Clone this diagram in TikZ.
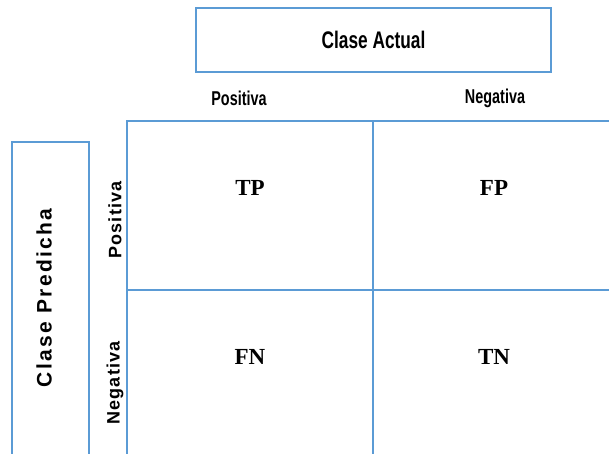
\documentclass[tikz,border=0pt]{standalone}
\usepackage{fontspec}
\setmainfont{Liberation Serif}
\newfontfamily\narrowsans[FakeStretch=0.72]{Liberation Sans}
\newfontfamily\spacedsans[LetterSpace=11]{Liberation Sans}
\newfontfamily\spacedsansb[LetterSpace=6]{Liberation Sans}
\definecolor{gridblue}{HTML}{5B9BD5}
\tikzset{
  frame/.style={draw=gridblue, line width=2pt},
  toplabel/.style={font=\narrowsans\bfseries\fontsize{20}{23}\selectfont, inner sep=0pt},
  sidelabel/.style={font=\spacedsansb\bfseries\fontsize{18}{21}\selectfont, inner sep=0pt, rotate=90},
  cell/.style={font=\bfseries\fontsize{23}{27}\selectfont, inner sep=0pt}
}
\begin{document}
\begin{tikzpicture}[x=1pt,y=-1pt]
\useasboundingbox (0,0) rectangle (609,454);
\clip (0,0) rectangle (609,454);
\fill[white] (0,0) rectangle (609,454);
% top header box
\node[frame, minimum width=355pt, minimum height=64pt, inner sep=0pt,
      font=\narrowsans\bfseries\fontsize{24}{27}\selectfont] (actual) at (373.5,40) {Clase Actual};
% left header box
\coordinate (lbA) at (12,142);
\coordinate (lbB) at (89,470);
\draw[frame] (lbA) rectangle (lbB);
\node[font=\spacedsans\bfseries\fontsize{21}{24}\selectfont, inner sep=0pt, rotate=90] (predicha) at (44,298) {Clase Predicha};
% column / row labels
\node[toplabel] (colpos) at (239,98) {Positiva};
\node[toplabel] (colneg) at (495,98) {Negativa};
\node[sidelabel] (rowpos) at (115,220) {Positiva};
\node[sidelabel] (rowneg) at (115,383) {Negativa};
% grid
\coordinate (gTL) at (126.5,121);
\coordinate (gTR) at (640,121);
\coordinate (gBL) at (126.5,480);
\coordinate (mT) at (373,121);
\coordinate (mB) at (373,480);
\coordinate (hL) at (126.5,290);
\coordinate (hR) at (640,290);
\draw[frame] (gBL) -- (gTL) -- (gTR);
\draw[frame] (mT) -- (mB);
\draw[frame] (hL) -- (hR);
% cells
\node[cell] (tp) at (250,188) {TP};
\node[cell] (fp) at (494,188) {FP};
\node[cell] (fn) at (250,357) {FN};
\node[cell] (tn) at (494,357) {TN};
\end{tikzpicture}
\end{document}
